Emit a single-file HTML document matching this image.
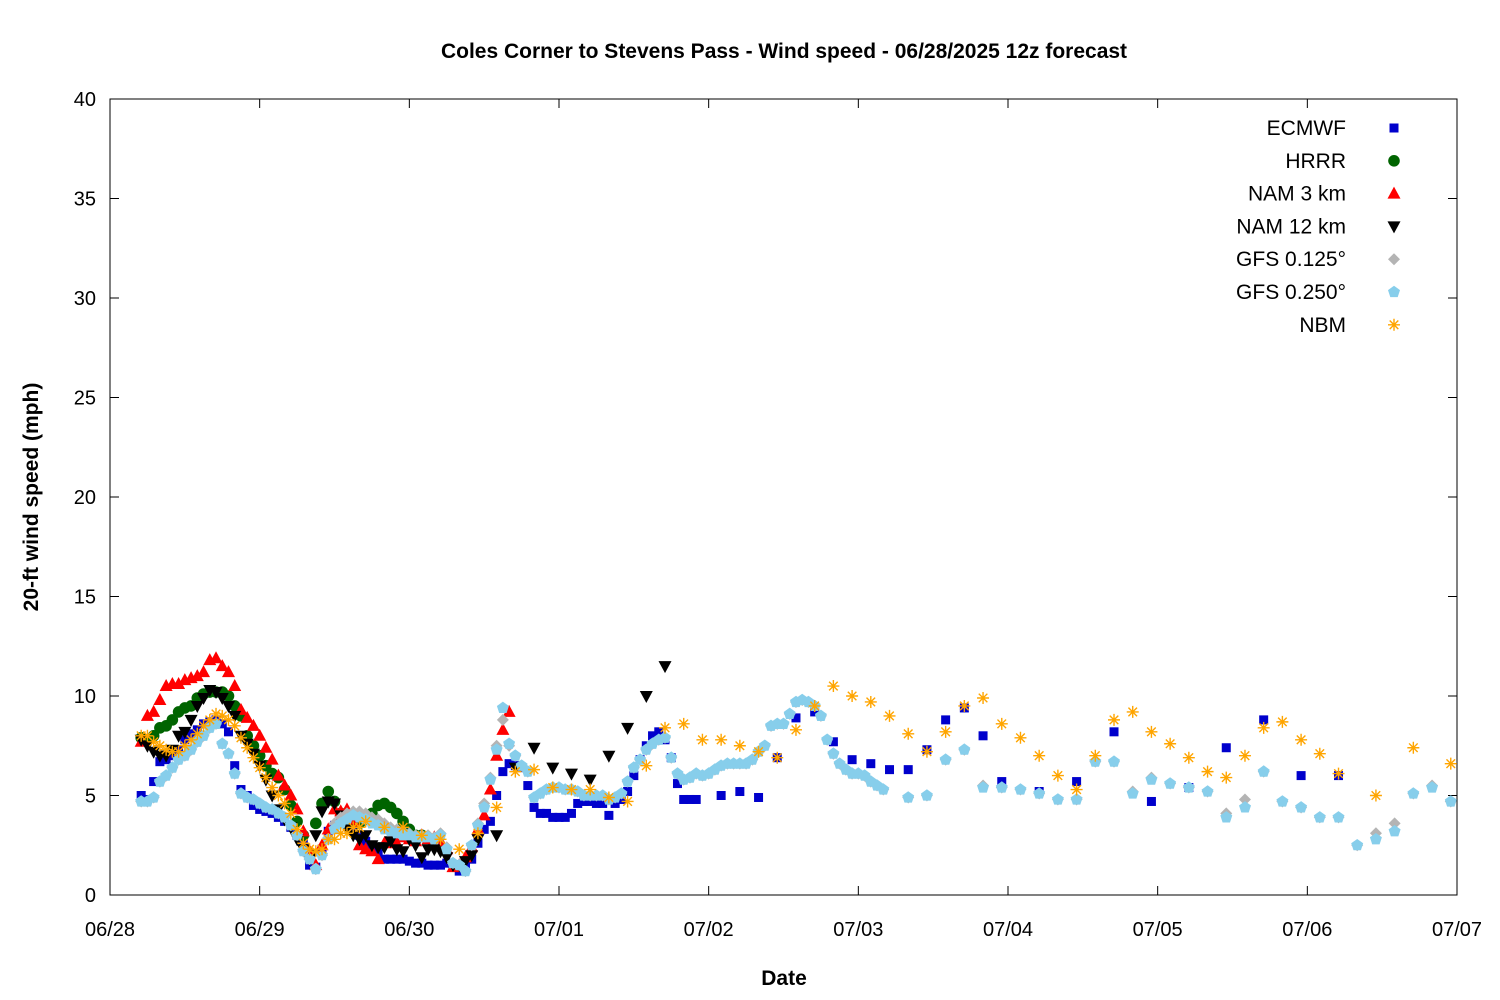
<!DOCTYPE html>
<html><head><meta charset="utf-8"><style>
body{margin:0;background:#fff}
svg{display:block;font-family:"Liberation Sans","DejaVu Sans",sans-serif}
</style></head><body>
<svg id="chart" width="1500" height="1000" xmlns="http://www.w3.org/2000/svg">
<rect width="1500" height="1000" fill="#fff"/>
<text x="784" y="58" text-anchor="middle" font-size="21" font-weight="bold">Coles Corner to Stevens Pass - Wind speed - 06/28/2025 12z forecast</text>
<text x="784" y="985" text-anchor="middle" font-size="21" font-weight="bold">Date</text>
<text transform="translate(38,497) rotate(-90)" text-anchor="middle" font-size="21" font-weight="bold">20-ft wind speed (mph)</text>
<rect x="110" y="99" width="1347" height="796" fill="none" stroke="#000" stroke-width="1"/>
<g id="axes"></g>
<g id="marks"></g>
<g id="legend"></g>
</svg>
<script>
function range(a,b,s){var r=[];for(var i=a;i<=b;i+=s)r.push(i);return r;}
var dateLabels=["06/28","06/29","06/30","07/01","07/02","07/03","07/04","07/05","07/06","07/07"];
var yTicks=[0,5,10,15,20,25,30,35,40];

var ecmwfHours=range(5,94,1).concat(range(98,140,3)).concat(range(143,197,6));
var ecmwfVals=[5.0,4.8,5.7,6.7,6.8,7.0,7.3,7.8,8.1,8.3,
8.6,8.7,8.8,8.6,8.2,6.5,5.3,5.0,4.5,4.3,
4.2,4.1,3.9,3.7,3.4,3.0,2.6,1.5,1.4,2.3,
3.2,3.5,3.8,3.6,3.4,3.0,2.7,2.3,2.2,1.8,
1.8,1.8,1.8,1.7,1.6,1.6,1.5,1.5,1.5,1.6,
1.5,1.2,1.4,1.8,2.6,3.3,3.7,5.0,6.2,6.6,
6.5,6.4,5.5,4.4,4.1,4.1,3.9,3.9,3.9,4.1,
4.6,4.7,4.7,4.6,4.6,4.0,4.6,4.8,5.2,6.0,
6.8,7.5,8.0,8.2,7.8,6.9,5.6,4.8,4.8,4.8,
5.0,5.2,4.9,6.9,8.9,9.2,7.7,6.8,6.6,6.3,6.3,7.3,8.8,9.4,8.0,
5.7,5.2,5.7,8.2,4.7,5.4,7.4,8.8,6.0,6.0];

var hrrrHours=range(5,50,1);
var hrrrVals=[7.9,7.8,8.0,8.4,8.5,8.8,9.2,9.4,9.5,
9.9,10.1,10.2,10.2,10.2,10.0,9.5,9.0,8.0,7.5,
7.0,6.5,6.1,5.9,5.3,4.5,3.7,3.0,2.1,3.6,
4.6,5.2,4.7,4.1,3.9,3.7,3.6,3.8,4.1,4.5,
4.6,4.4,4.1,3.7,3.3,3.0,3.0];

var nam3Hours=range(5,64,1);
var nam3Vals=[7.7,9.0,9.2,9.8,10.5,10.6,10.6,10.8,10.9,11.0,
11.2,11.8,11.9,11.5,11.2,10.5,9.3,8.9,8.5,8.0,
7.4,6.8,6.0,5.5,5.0,4.3,3.2,2.2,1.5,2.5,
3.3,4.3,4.2,4.3,3.7,2.5,2.3,2.2,1.8,2.6,
2.8,2.6,2.9,2.8,2.7,3.0,2.8,2.9,2.7,2.3,
1.4,1.5,1.9,2.4,3.3,4.0,5.3,7.0,8.3,9.2];

var nam12Hours=range(5,59,1).concat(range(62,89,3));
var nam12Vals=[7.8,7.5,7.2,7.0,7.0,7.3,8.0,8.2,8.8,9.5,
9.9,10.3,10.2,9.9,9.5,9.0,8.0,7.6,7.1,6.5,
5.8,5.0,4.3,3.8,3.4,2.8,2.3,1.8,3.0,4.2,
4.7,4.6,4.0,3.3,3.0,2.8,3.0,2.5,2.4,2.4,
2.7,2.3,2.2,2.8,2.5,1.9,2.3,2.3,2.2,1.9,
1.5,1.5,1.7,2.0,2.8,
3.0,6.4,7.4,6.4,6.1,5.8,7.0,8.4,10.0,11.5];

var gfs125Hours=range(5,124,1).concat(range(128,215,3));
var gfs125Vals=[4.7,4.7,4.9,5.7,6.0,6.4,6.8,7.0,7.3,7.7,
8.0,8.4,8.6,7.6,7.1,6.1,5.1,4.9,4.8,4.6,
4.4,4.3,4.1,3.9,3.5,3.0,2.2,1.8,1.3,2.0,
2.8,3.6,3.9,4.1,4.2,4.2,4.1,3.9,3.8,3.6,
3.4,3.3,3.2,3.1,3.0,3.0,3.0,2.9,3.1,2.4,
1.6,1.5,1.2,2.5,3.6,4.6,5.9,7.5,8.8,7.5,
7.0,6.5,6.2,4.9,5.1,5.3,5.4,5.4,5.3,5.3,
5.2,5.0,5.0,5.0,5.0,4.8,4.9,5.1,5.7,6.4,
6.8,7.3,7.6,7.8,7.9,6.9,6.1,5.8,5.9,6.1,
6.0,6.1,6.3,6.5,6.6,6.6,6.6,6.6,6.8,7.2,
7.5,8.5,8.6,8.6,9.1,9.7,9.8,9.7,9.5,9.0,
7.8,7.1,6.6,6.3,6.1,6.1,6.0,5.7,5.5,5.3,
4.9,5.0,6.8,7.3,5.5,5.4,5.3,5.1,4.8,4.8,6.7,6.7,5.2,5.9,5.6,5.4,5.2,4.1,4.8,6.2,4.7,4.4,3.9,3.9,2.5,3.1,3.6,5.1,5.5,4.7];

var gfs250Hours=range(5,124,1).concat(range(128,215,3));
var gfs250Vals=[4.7,4.7,4.9,5.7,6.0,6.4,6.8,7.0,7.3,7.7,
8.0,8.4,8.6,7.6,7.1,6.1,5.1,4.9,4.8,4.6,
4.4,4.3,4.1,3.9,3.5,3.0,2.2,1.8,1.3,2.0,
2.8,3.3,3.6,3.8,4.0,3.9,3.8,3.6,3.5,3.3,
3.2,3.1,3.0,3.0,2.9,2.9,2.9,2.8,3.0,2.3,
1.6,1.5,1.2,2.5,3.5,4.4,5.8,7.3,9.4,7.6,
7.0,6.5,6.2,4.9,5.1,5.3,5.4,5.4,5.3,5.3,
5.2,5.0,5.0,5.0,5.0,4.8,4.9,5.1,5.7,6.4,
6.8,7.3,7.6,7.8,7.9,6.9,6.1,5.8,5.9,6.1,
6.0,6.1,6.3,6.5,6.6,6.6,6.6,6.6,6.8,7.2,
7.5,8.5,8.6,8.6,9.1,9.7,9.8,9.7,9.5,9.0,
7.8,7.1,6.6,6.3,6.1,6.1,6.0,5.7,5.5,5.3,
4.9,5.0,6.8,7.3,5.4,5.4,5.3,5.1,4.8,4.8,6.7,6.7,5.1,5.8,5.6,5.4,5.2,3.9,4.4,6.2,4.7,4.4,3.9,3.9,2.5,2.8,3.2,5.1,5.4,4.7];

var nbmHours=range(5,41,1).concat(range(44,197,3)).concat([203,209,215]);
var nbmVals=[8.0,8.0,7.7,7.5,7.3,7.2,7.2,7.5,7.8,8.1,
8.5,8.8,9.1,9.0,8.8,8.5,7.9,7.4,6.9,6.4,
5.9,5.4,5.0,4.6,4.1,3.3,2.6,2.3,2.2,2.3,
2.8,2.8,3.1,3.1,3.4,3.4,3.7,
3.4,3.4,3.0,2.8,2.3,3.1,4.4,6.2,6.3,5.4,
5.3,5.3,4.9,4.7,6.5,8.4,8.6,7.8,7.8,7.5,
7.2,6.9,8.3,9.5,10.5,10.0,9.7,9.0,8.1,7.2,
8.2,9.5,9.9,8.6,7.9,7.0,6.0,5.3,7.0,8.8,
9.2,8.2,7.6,6.9,6.2,5.9,7.0,8.4,8.7,7.8,
7.1,6.1,
5.0,7.4,6.6];

var NS="http://www.w3.org/2000/svg";
function xs(h){return 110+h*(1347/216);}
function ys(v){return 895-v*(796/40);}
function mk(tag,attrs,parent){var e=document.createElementNS(NS,tag);for(var k in attrs)e.setAttribute(k,attrs[k]);parent.appendChild(e);return e;}

var axes=document.getElementById('axes');
yTicks.forEach(function(t){
  var y=ys(t);
  var l=mk('line',{x1:110,x2:119,y1:y,y2:y,stroke:'#000'},axes);
  
  
  var r=mk('line',{x1:1448,x2:1457,y1:y,y2:y,stroke:'#000'},axes);
  
  
  var tx=mk('text',{x:96,y:y+7,'text-anchor':'end','font-size':'20'},axes);
  tx.textContent=t;
  
  
});
dateLabels.forEach(function(d,i){
  var x=xs(i*24);
  var b=mk('line',{x1:x,x2:x,y1:886,y2:895,stroke:'#000'},axes);
  
  
  var t=mk('line',{x1:x,x2:x,y1:99,y2:108,stroke:'#000'},axes);
  
  
  var tx=mk('text',{x:x,y:936,'text-anchor':'middle','font-size':'20'},axes);
  tx.textContent=d;
  
  
});

function drawMarker(type,x,y,g){
  var e;
  if(type==='square'){e=mk('rect',{x:x-4.5,y:y-4.5,width:9,height:9,fill:'#0000cc'},g);}
  else if(type==='circle'){e=mk('circle',{cx:x,cy:y,r:5.8,fill:'#006400'},g);}
  else if(type==='up'){e=mk('polygon',{points:(x)+','+(y-7)+' '+(x+6.5)+','+(y+5)+' '+(x-6.5)+','+(y+5),fill:'#ff0000'},g);}
  else if(type==='down'){e=mk('polygon',{points:(x)+','+(y+7)+' '+(x+6.5)+','+(y-5)+' '+(x-6.5)+','+(y-5),fill:'#000'},g);}
  else if(type==='diamond'){e=mk('polygon',{points:x+','+(y-6)+' '+(x+6)+','+y+' '+x+','+(y+6)+' '+(x-6)+','+y,fill:'#b4b4b4'},g);}
  else if(type==='pent'){var p=[];for(var i=0;i<5;i++){var a=-Math.PI/2+i*2*Math.PI/5;p.push((x+6.3*Math.cos(a)).toFixed(1)+','+(y+6.3*Math.sin(a)).toFixed(1));}e=mk('polygon',{points:p.join(' '),fill:'#87ceeb'},g);}
  else {var s=6;e=mk('path',{d:'M'+(x-s)+' '+y+'H'+(x+s)+'M'+x+' '+(y-s)+'V'+(y+s)+'M'+(x-4.3)+' '+(y-4.3)+'L'+(x+4.3)+' '+(y+4.3)+'M'+(x-4.3)+' '+(y+4.3)+'L'+(x+4.3)+' '+(y-4.3),stroke:'#ffa500','stroke-width':1.4,fill:'none'},g);}
  return e;
}
var marks=document.getElementById('marks');
var series=[
 {name:'ECMWF',type:'square',h:ecmwfHours,v:ecmwfVals,id:'ecmwf'},
 {name:'HRRR',type:'circle',h:hrrrHours,v:hrrrVals,id:'hrrr'},
 {name:'NAM 3 km',type:'up',h:nam3Hours,v:nam3Vals,id:'nam-3km'},
 {name:'NAM 12 km',type:'down',h:nam12Hours,v:nam12Vals,id:'nam-12km'},
 {name:'GFS 0.125°',type:'diamond',h:gfs125Hours,v:gfs125Vals,id:'gfs-0125'},
 {name:'GFS 0.250°',type:'pent',h:gfs250Hours,v:gfs250Vals,id:'gfs-0250'},
 {name:'NBM',type:'star',h:nbmHours,v:nbmVals,id:'nbm'}
];
series.forEach(function(s){
  var g=mk('g',{},marks);
  
  
  var n=Math.min(s.h.length,s.v.length);
  for(var i=0;i<n;i++){
    var m=drawMarker(s.type,xs(s.h[i]),ys(s.v[i]),g);
    
    
  }
});
var leg=document.getElementById('legend');
series.forEach(function(s,i){
  var y=128+i*32.8;
  var t=mk('text',{x:1346,y:y+7,'text-anchor':'end','font-size':'21'},leg);
  t.textContent=s.name;
  
  
  var m=drawMarker(s.type,1394,y,leg);
  
  
});
</script>
</body></html>
